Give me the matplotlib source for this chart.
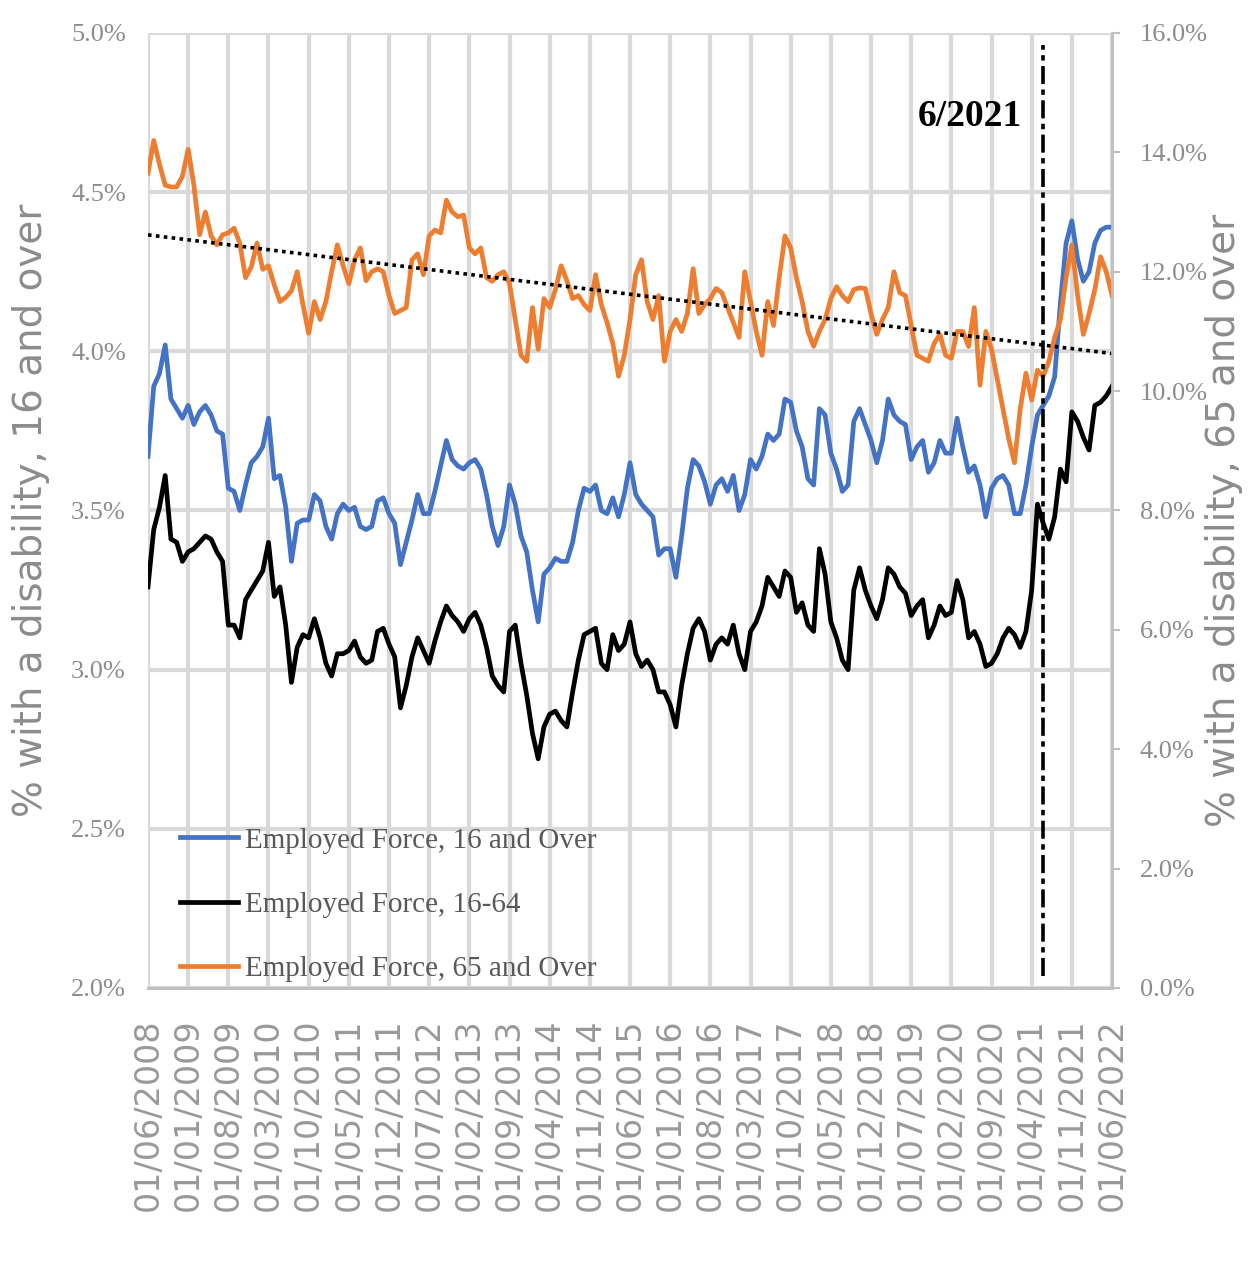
import numpy as np
import pandas as pd
import matplotlib
matplotlib.use('Agg')
import matplotlib.pyplot as plt

# monthly series, June 2008 - June 2022 (% of employed with a disability)
months = pd.date_range('2008-06-01', '2022-06-01', freq='MS')

age16_over = [
    3.67, 3.89, 3.93, 4.02, 3.85, 3.82, 3.79, 3.83, 3.77, 3.81, 3.83, 3.80, 3.75, 3.74,
    3.57, 3.56, 3.50, 3.58, 3.65, 3.67, 3.70, 3.79, 3.60, 3.61, 3.51, 3.34, 3.46, 3.47,
    3.47, 3.55, 3.53, 3.45, 3.41, 3.49, 3.52, 3.50, 3.51, 3.45, 3.44, 3.45, 3.53, 3.54,
    3.49, 3.46, 3.33, 3.40, 3.47, 3.55, 3.49, 3.49, 3.56, 3.64, 3.72, 3.66, 3.64, 3.63,
    3.65, 3.66, 3.63, 3.55, 3.45, 3.39, 3.45, 3.58, 3.52, 3.42, 3.37, 3.25, 3.15, 3.30,
    3.32, 3.35, 3.34, 3.34, 3.40, 3.50, 3.57, 3.56, 3.58, 3.50, 3.49, 3.54, 3.48, 3.55,
    3.65, 3.55, 3.52, 3.50, 3.48, 3.36, 3.38, 3.38, 3.29, 3.42, 3.57, 3.66, 3.64, 3.59,
    3.52, 3.58, 3.60, 3.56, 3.61, 3.50, 3.55, 3.66, 3.63, 3.67, 3.74, 3.72, 3.74, 3.85,
    3.84, 3.75, 3.70, 3.60, 3.58, 3.82, 3.80, 3.68, 3.63, 3.56, 3.58, 3.78, 3.82, 3.77,
    3.72, 3.65, 3.72, 3.85, 3.80, 3.78, 3.77, 3.66, 3.70, 3.72, 3.62, 3.65, 3.72, 3.68,
    3.68, 3.79, 3.70, 3.62, 3.64, 3.58, 3.48, 3.57, 3.60, 3.61, 3.58, 3.49, 3.49, 3.58,
    3.70, 3.80, 3.83, 3.86, 3.92, 4.15, 4.34, 4.41, 4.29, 4.22, 4.25, 4.34, 4.38, 4.39,
    4.39,
]

age16_64 = [
    3.26, 3.44, 3.51, 3.61, 3.41, 3.40, 3.34, 3.37, 3.38, 3.40, 3.42, 3.41, 3.37, 3.34,
    3.14, 3.14, 3.10, 3.22, 3.25, 3.28, 3.31, 3.40, 3.23, 3.26, 3.14, 2.96, 3.07, 3.11,
    3.10, 3.16, 3.10, 3.02, 2.98, 3.05, 3.05, 3.06, 3.09, 3.04, 3.02, 3.03, 3.12, 3.13,
    3.08, 3.04, 2.88, 2.95, 3.04, 3.10, 3.06, 3.02, 3.09, 3.15, 3.20, 3.17, 3.15, 3.12,
    3.16, 3.18, 3.14, 3.07, 2.98, 2.95, 2.93, 3.12, 3.14, 3.02, 2.92, 2.80, 2.72, 2.82,
    2.86, 2.87, 2.84, 2.82, 2.93, 3.03, 3.11, 3.12, 3.13, 3.02, 3.00, 3.11, 3.06, 3.08,
    3.15, 3.05, 3.01, 3.03, 3.00, 2.93, 2.93, 2.89, 2.82, 2.95, 3.05, 3.13, 3.16, 3.12,
    3.03, 3.08, 3.10, 3.08, 3.14, 3.05, 3.00, 3.12, 3.15, 3.20, 3.29, 3.26, 3.23, 3.31,
    3.29, 3.18, 3.21, 3.14, 3.12, 3.38, 3.30, 3.15, 3.10, 3.03, 3.00, 3.25, 3.32, 3.25,
    3.20, 3.16, 3.22, 3.32, 3.30, 3.26, 3.24, 3.17, 3.20, 3.22, 3.10, 3.14, 3.20, 3.17,
    3.18, 3.28, 3.22, 3.10, 3.12, 3.08, 3.01, 3.02, 3.05, 3.10, 3.13, 3.11, 3.07, 3.12,
    3.25, 3.52, 3.46, 3.41, 3.48, 3.63, 3.59, 3.81, 3.78, 3.73, 3.69, 3.83, 3.84, 3.86,
    3.89,
]

age65_over = [
    13.65, 14.20, 13.80, 13.45, 13.42, 13.42, 13.60, 14.05, 13.45, 12.62, 13.00, 12.60, 12.45, 12.62,
    12.65, 12.73, 12.48, 11.90, 12.08, 12.48, 12.04, 12.10, 11.78, 11.50, 11.57, 11.68, 12.00, 11.45,
    10.97, 11.50, 11.20, 11.50, 12.00, 12.45, 12.10, 11.80, 12.20, 12.40, 11.85, 12.00, 12.05, 12.00,
    11.60, 11.30, 11.35, 11.40, 12.20, 12.30, 11.95, 12.60, 12.70, 12.65, 13.20, 13.00, 12.92, 12.95,
    12.40, 12.30, 12.40, 11.90, 11.84, 11.95, 12.00, 11.80, 11.20, 10.60, 10.50, 11.40, 10.70, 11.55,
    11.40, 11.70, 12.10, 11.85, 11.55, 11.60, 11.45, 11.35, 11.95, 11.45, 11.15, 10.80, 10.25, 10.60,
    11.20, 11.95, 12.20, 11.50, 11.20, 11.60, 10.50, 11.00, 11.20, 11.00, 11.30, 12.05, 11.30, 11.45,
    11.55, 11.72, 11.65, 11.40, 11.15, 10.90, 12.00, 11.50, 11.00, 10.60, 11.50, 11.10, 11.90, 12.60,
    12.40, 11.90, 11.50, 11.00, 10.75, 11.00, 11.20, 11.55, 11.75, 11.60, 11.50, 11.70, 11.73, 11.72,
    11.30, 10.95, 11.20, 11.40, 12.00, 11.65, 11.60, 11.10, 10.60, 10.55, 10.50, 10.80, 10.95, 10.60,
    10.55, 11.00, 11.00, 10.75, 11.40, 10.10, 11.00, 10.70, 10.20, 9.70, 9.20, 8.80, 9.70, 10.30,
    9.85, 10.35, 10.25, 10.50, 10.90, 11.20, 11.90, 12.45, 11.60, 10.95, 11.30, 11.70, 12.25, 12.00,
    11.60,
]

labels = ['Employed Force, 16 and Over', 'Employed Force, 16-64',
          'Employed Force, 65 and Over']
event_date = pd.Timestamp('2021-06-01')

x = np.arange(len(months))
tick_pos = x[::7]
tick_labels = months[::7].strftime('%d/%m/%Y')
event_idx = months.get_loc(event_date)

# linear trend of the 65+ series
coef = np.polyfit(x, age65_over, 1)
trend = np.polyval(coef, x)

grid_c = '#d9d9d9'
txt_c = '#8c8c8c'
serif = 'Liberation Serif'

fig = plt.figure(figsize=(12.52, 12.74), dpi=100)
ax = fig.add_axes([0.1182, 0.2245, 0.770, 0.7496])
ax2 = ax.twinx()

l1, = ax.plot(x, age16_over, color='#4472C4', lw=3.4, label=labels[0])
l2, = ax.plot(x, age16_64, color='#000000', lw=3.4, label=labels[1])
l3, = ax2.plot(x, age65_over, color='#ED7D31', lw=3.4, label=labels[2])
ax2.plot(x, trend, color='black', lw=2.6, linestyle=(0, (1, 1.2)))
ax2.axvline(event_idx, ymin=0.013, ymax=0.987, color='black', lw=2.6,
            linestyle=(0, (5, 1.5, 1.5, 1.5)))

ax.set_xlim(0, 168)
ax.set_ylim(2.0, 5.0)
ax2.set_ylim(0, 16)

ax.set_yticks(np.arange(2.0, 5.01, 0.5))
ax.set_yticklabels([f'{v:.1f}%' for v in np.arange(2.0, 5.01, 0.5)])
ax2.set_yticks(np.arange(0, 16.1, 2))
ax2.set_yticklabels([f'{v:.1f}%' for v in np.arange(0, 16.1, 2)])
ax.set_xticks(tick_pos)
ax.set_xticklabels(tick_labels, rotation=90, family='DejaVu Sans',
                   fontsize=24, color='#999999')

ax.grid(True, color=grid_c, lw=3)
ax.set_axisbelow(True)
for a in (ax, ax2):
    for s in ('top', 'left', 'right'):
        a.spines[s].set_visible(False)
    a.spines['bottom'].set_color('#bfbfbf')
    a.spines['bottom'].set_linewidth(2)
ax2.spines['right'].set_visible(True)
ax2.spines['right'].set_color('#bfbfbf')
ax2.spines['right'].set_linewidth(2)

ax.tick_params(axis='x', length=0, pad=22)
ax.tick_params(axis='y', length=0, pad=16, labelsize=19, labelcolor=txt_c)
ax2.tick_params(axis='y', length=6, width=1.5, color='#bfbfbf', pad=14,
                labelsize=19, labelcolor=txt_c)
for lab in ax.get_yticklabels() + ax2.get_yticklabels():
    lab.set_family(serif)

ax.set_ylabel('% with a disability, 16 and over', family='DejaVu Sans',
              fontsize=28, color=txt_c)
ax.yaxis.set_label_coords(-0.102, 0.50)
ax2.set_ylabel('% with a disability, 65 and over', family='DejaVu Sans',
               fontsize=28, color=txt_c, rotation=90)
ax2.yaxis.set_label_coords(1.096, 0.49)

ax2.annotate(event_date.strftime('%-m/%Y'), xy=(event_idx, 14.6),
             xytext=(-15, 0), textcoords='offset points', ha='right',
             va='center', family=serif, fontweight='bold', fontsize=27,
             color='black')

leg = ax2.legend(handles=[l1, l2, l3], loc='lower left',
                 bbox_to_anchor=(0.033, 0.006), frameon=False, borderpad=0,
                 borderaxespad=0, handlelength=2.0, handletextpad=0.25,
                 labelspacing=1.3, prop={'family': serif, 'size': 21})
for t in leg.get_texts():
    t.set_color('#595959')

fig.savefig('out.png', dpi=100)
